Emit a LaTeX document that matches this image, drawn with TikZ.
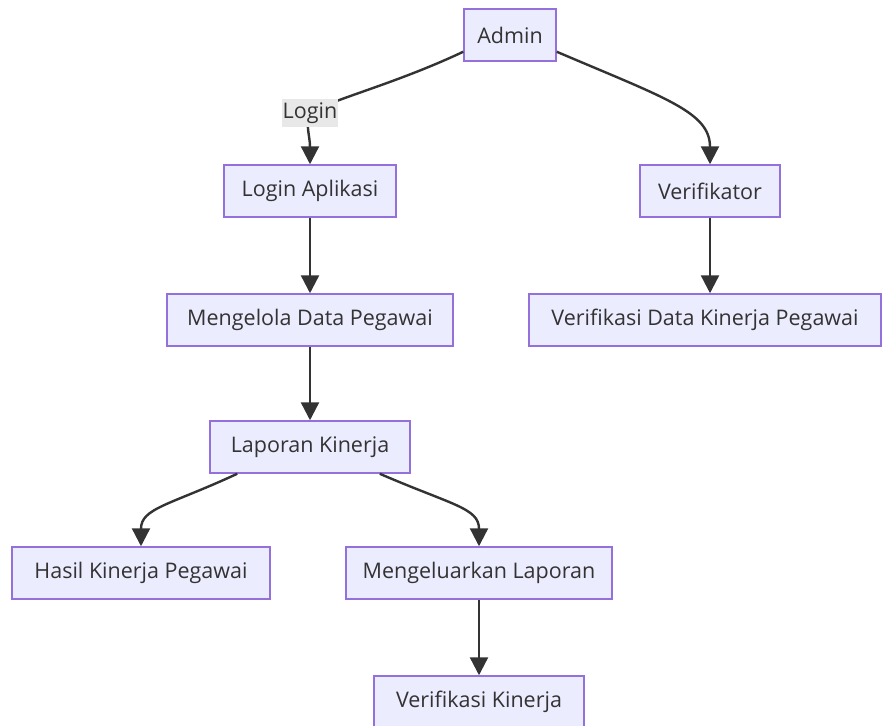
\documentclass[tikz,border=0pt]{standalone}
\usepackage{fontspec}
\setmainfont{Open Sans}
\usetikzlibrary{arrows.meta,positioning}
\definecolor{boxfill}{HTML}{ECECFF}
\definecolor{boxline}{HTML}{9370DB}
\definecolor{ink}{HTML}{333333}
\definecolor{lblfill}{HTML}{E8E8E8}

\begin{document}
\begin{tikzpicture}[x=1pt, y=-1pt,
  box/.style={draw=boxline, line width=1.5pt, fill=boxfill, text=ink, minimum height=52pt, inner xsep=0pt, font=\fontsize{21.5}{25}\selectfont},
  lbl/.style={fill=lblfill, text=ink, inner sep=1pt, minimum height=28pt, font=\fontsize{21.5}{25}\selectfont},
  edge/.style={draw=ink, line width=2.4pt, -{Triangle[length=18pt,width=18pt]}}
]
\useasboundingbox (0,0) rectangle (882,725);
\node[box, minimum width=92pt] (admin) at (510,35) {Admin};
\node[box, minimum width=172pt] (login) at (310,191) {Login Aplikasi};
\node[box, minimum width=140pt] (verif) at (710,191) {Verifikator};
\node[box, minimum width=286pt] (kelola) at (310,320) {Mengelola Data Pegawai};
\node[box, minimum width=352pt] (vdkp) at (705,320) {Verifikasi Data Kinerja Pegawai};
\node[box, minimum width=200pt] (lapor) at (310,447) {Laporan Kinerja};
\node[box, minimum width=258pt] (hasil) at (141,573) {Hasil Kinerja Pegawai};
\node[box, minimum width=266pt] (keluar) at (479,573) {Mengeluarkan Laporan};
\node[box, minimum width=210pt] (verkin) at (479,702) {Verifikasi Kinerja};
\coordinate (lgpt) at (310,113);

\draw[edge] ([yshift=10pt]admin.south west) .. controls (395,84) and (330,100) .. (lgpt)
  .. controls (305,124) and (310,136) .. (login.north);
\draw[edge] ([yshift=10pt]admin.south east) .. controls (665,98) and (710,112) .. (verif.north);
\draw[edge] (login) -- (kelola);
\draw[edge] (kelola) -- (lapor);
\draw[edge] (verif) -- (verif |- vdkp.north);
\draw[edge] ([xshift=28pt]lapor.south west) .. controls (170,505) and (141,508) .. (hasil.north);
\draw[edge] ([xshift=-31pt]lapor.south east) .. controls (452,505) and (479,508) .. (keluar.north);
\draw[edge] (keluar) -- (verkin);

\node[lbl] (lg) at (lgpt) {Login};
\end{tikzpicture}
\end{document}
